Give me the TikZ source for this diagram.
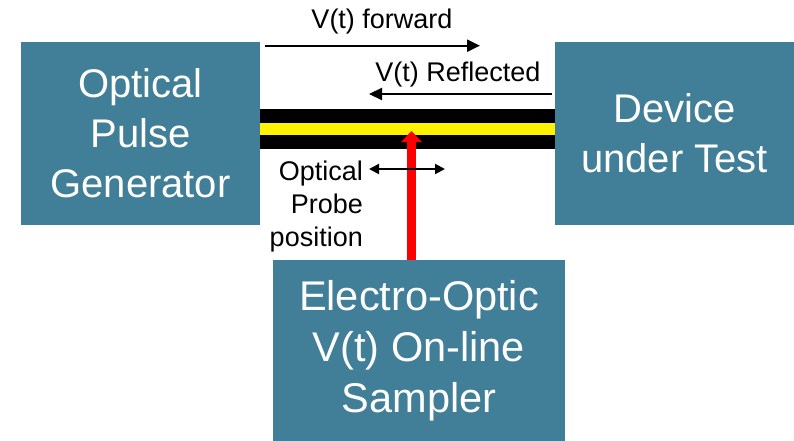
\documentclass[tikz,border=0pt]{standalone}
\usepackage{fontspec}
\setmainfont{Liberation Sans}
\usetikzlibrary{arrows.meta}
\definecolor{boxblue}{RGB}{65,126,151}

\begin{document}
\begin{tikzpicture}[x=1pt, y=-1pt,
  block/.style={fill=boxblue, text=white, align=center, inner sep=0pt,
    font=\fontsize{40}{50}\selectfont},
  lbl/.style={font=\fontsize{27}{33}\selectfont, inner sep=0pt},
  sig/.style={-{Triangle[length=13pt,width=12pt]}, line width=2.2pt}]

\useasboundingbox (0,0) rectangle (794,441);

% Blocks
\node[block, minimum width=239pt, minimum height=183pt] (gen) at (140.5,133.5) {Optical\\Pulse\\Generator};
\node[block, minimum width=239pt, minimum height=183pt] (dut) at (674.5,133.5) {Device\\under Test};
\node[block, minimum width=292pt, minimum height=181pt,
  font=\fontsize{41.5}{51}\selectfont] (eos) at (419,350.5) {Electro-Optic\\V(t) On-line\\Sampler};

% Transmission line
\fill[black] (gen.east |- 0,109) rectangle (dut.west |- 0,149);
\fill[yellow] (gen.east |- 0,123) rectangle (dut.west |- 0,135);

% Forward and reflected waves
\coordinate (fwdA) at (265,45.7);
\coordinate (fwdB) at (480,45.7);
\coordinate (refA) at (552,94);
\coordinate (refB) at (369,94);
\draw[sig] (fwdA) -- (fwdB);
\draw[sig] (refA) -- (refB);
\node[lbl, anchor=base] (fwdlbl) at (382,29) {V(t) forward};
\node[lbl, anchor=base] (reflbl) at (458,82) {V(t) Reflected};

% Probe beam
\coordinate (tip) at (411.5,131);
\draw[red, line width=9pt, -{Triangle[length=11pt,width=20pt]}] (tip |- eos.north) -- (tip);

% Probe position
\coordinate (posA) at (369,169);
\coordinate (posB) at (445,169);
\draw[{Triangle[length=10pt,width=10pt]}-{Triangle[length=10pt,width=10pt]}, line width=2pt] (posA) -- (posB);
\node[lbl, align=right, anchor=east] (poslbl) at (363,207) {Optical\\Probe\\position};

\end{tikzpicture}
\end{document}
